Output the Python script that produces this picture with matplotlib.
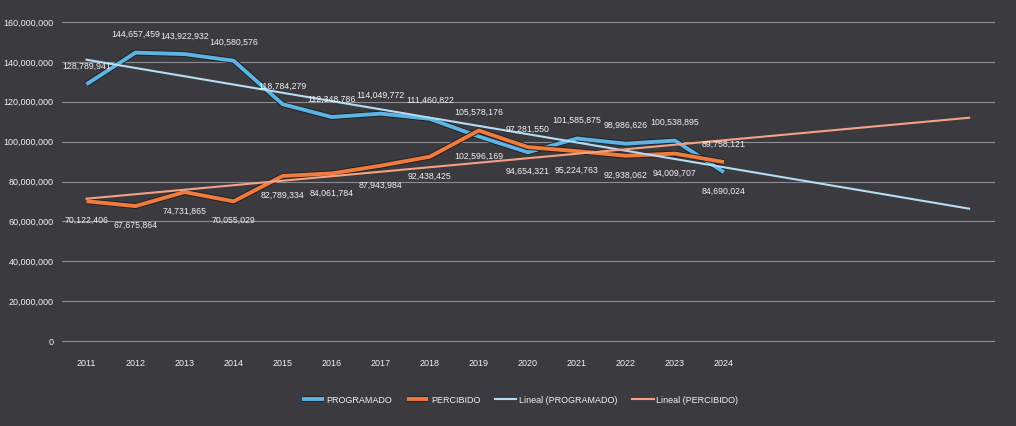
import matplotlib
matplotlib.use("Agg")
import matplotlib.pyplot as plt
import matplotlib.patheffects as pe
import numpy as np

# data
years = ["2011", "2012", "2013", "2014", "2015", "2016", "2017",
         "2018", "2019", "2020", "2021", "2022", "2023", "2024"]
programado = [128789941, 144657459, 143922932, 140580576, 118784279, 112348786, 114049772,
              111460822, 102596169, 94654321, 101585875, 98986626, 100538895, 84690024]
percibido = [70122406, 67675864, 74731865, 70055029, 82789334, 84061784, 87943984,
             92438425, 105578176, 97281550, 95224763, 92938062, 94009707, 89758121]
y_ticks = [0, 20000000, 40000000, 60000000, 80000000, 100000000, 120000000, 140000000, 160000000]
forecast = 5  # trend line carried 5 periods forward

bg = "#3b3a3f"
blue = "#5cb3e4"
orange = "#f07b3c"
blue_trend = "#b5dcf2"
orange_trend = "#f4a184"
txt = "#f2f2f2"

plt.rcParams["font.family"] = ["Liberation Sans Narrow", "Liberation Sans", "DejaVu Sans"]

fig = plt.figure(figsize=(10.16, 4.26), dpi=100, facecolor=bg)
ax = fig.add_axes([0.061, 0.1995, 0.917, 0.7488], facecolor=bg)

x = np.arange(len(years))
prog = np.array(programado) / 1e6
perc = np.array(percibido) / 1e6

# linear trend lines (like Excel's "Lineal"), extended forward
xt = np.arange(len(years) + forecast)
p1 = np.polyfit(x, prog, 1)
p2 = np.polyfit(x, perc, 1)

shadow = [pe.Stroke(linewidth=4.2, foreground="#222126"), pe.Normal()]
ax.plot(x, prog, color=blue, lw=2.8, solid_capstyle="butt", zorder=3, label="PROGRAMADO",
        path_effects=shadow)
ax.plot(x, perc, color=orange, lw=2.8, solid_capstyle="butt", zorder=3, label="PERCIBIDO",
        path_effects=shadow)
ax.plot(xt, np.polyval(p1, xt), color=blue_trend, lw=1.5, zorder=4, label="Lineal (PROGRAMADO)")
ax.plot(xt, np.polyval(p2, xt), color=orange_trend, lw=1.5, zorder=4, label="Lineal (PERCIBIDO)")

# data labels: higher value above, lower value below
for i in range(len(years)):
    a, b = programado[i], percibido[i]
    hi, lo = (a, b) if a >= b else (b, a)
    ax.annotate(f"{hi:,}", (i, hi / 1e6), xytext=(0, 13), textcoords="offset points",
                ha="center", va="center", fontsize=6.3, color=txt, zorder=5)
    ax.annotate(f"{lo:,}", (i, lo / 1e6), xytext=(0, -14), textcoords="offset points",
                ha="center", va="center", fontsize=6.3, color=txt, zorder=5)

ax.set_xlim(-0.5, len(xt) - 0.5)
ax.set_ylim(0, 160)
ax.set_yticks(np.array(y_ticks) / 1e6)
ax.set_yticklabels([f"{v:,}" for v in y_ticks])
ax.set_xticks(x)
ax.set_xticklabels(years)
ax.yaxis.grid(True, color="#8e8d92", lw=0.8)
for gl in ax.get_ygridlines():
    gl.set_clip_on(False)
ax.set_axisbelow(True)
ax.tick_params(length=0, colors=txt, labelsize=6.5)
ax.tick_params(axis="x", pad=13)
ax.tick_params(axis="y", pad=6)
for s in ax.spines.values():
    s.set_visible(False)

leg = fig.legend(loc="center", bbox_to_anchor=(0.512, 0.061), ncol=4, frameon=False,
                 fontsize=6.5, handlelength=2.4, columnspacing=1.6, handletextpad=0.3)
for t in leg.get_texts():
    t.set_color(txt)

fig.savefig("out.png", dpi=100, facecolor=bg)
